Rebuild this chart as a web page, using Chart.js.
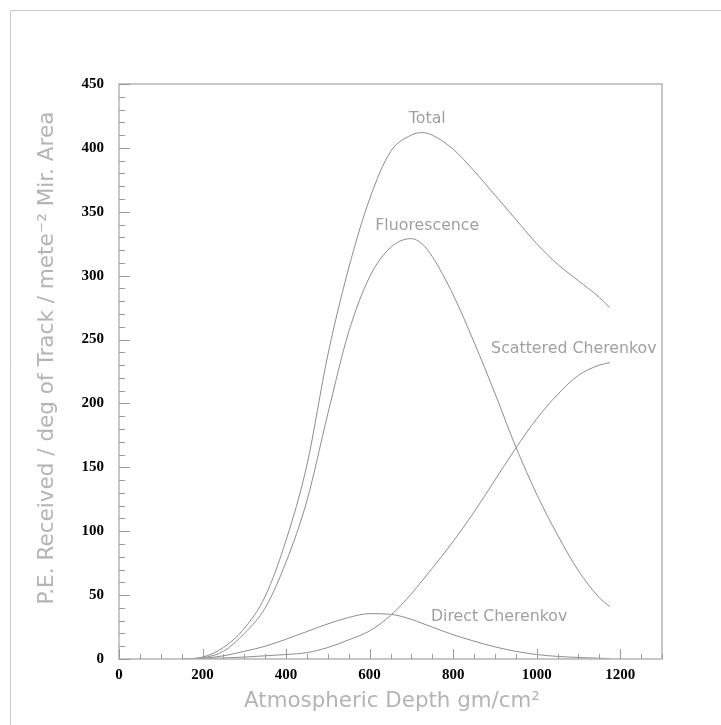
<!DOCTYPE html>
<html><head><meta charset="utf-8">
<script src="https://cdn.jsdelivr.net/npm/chart.js@4/dist/chart.umd.min.js"></script>
<style>html,body{margin:0;padding:0;background:#fff;overflow:hidden}#wrap{position:relative;width:721px;height:725px}canvas{display:block}</style>
</head><body><div id="wrap"><canvas id="c" width="721" height="725" style="width:721px;height:725px"></canvas></div>
<script>
// Atmospheric depth (gm/cm^2) sample positions
const depths = [150,200,250,300,350,400,450,500,550,600,650,700,725,750,800,850,900,950,1000,1050,1100,1150,1175];
// P.E. received per series
const total = [0,1.5,9,24,49,93,152,238,306,360,397,410,412,410,399,382,363,344,325,309,296,283,275];
const fluorescence = [0,1,6,20,40,76,124,192,256,299,322,329,325,315,285,248,208,166,129,97,69,48,41];
const scatteredCherenkov = [0,0.3,0.8,1.5,2.5,3.5,5,9,15,22,34,51,61,71,92,115,140,165,188,207,222,230,232];
const directCherenkov = [0,0.5,2.5,6,10,15.5,21.5,27.5,32.5,35.5,35,31,28,25,19,14,9.5,6,3.5,2,1.2,0.6,0.4];
const seriesNames = ['Total','Fluorescence','Scattered Cherenkov','Direct Cherenkov'];
const xTickValues = [0,200,400,600,800,1000,1200];
const yTickValues = [0,50,100,150,200,250,300,350,400,450];
const xTitle = 'Atmospheric Depth gm/cm\u00B2';
const yTitle = 'P.E. Received / deg of Track / mete\u207B\u00B2 Mir. Area';

const seriesValues = [total, fluorescence, scatteredCherenkov, directCherenkov];
// label anchor in data coordinates for each curve
const labelAnchors = [[738,423],[738,339],[1089,243],[910,33]];

const LINE = '#8e8e8e';
const sansFamily = '"DejaVu Sans", sans-serif';

function fitSize(ctx, text, weight, family, target){
  ctx.font = weight+' 20px '+family;
  const w = ctx.measureText(text).width;
  return 20*target/w;
}

const decor = {
  id:'decor',
  beforeDraw(chart){
    const ctx = chart.ctx;
    ctx.save();
    ctx.fillStyle='#fff';
    ctx.fillRect(0,0,chart.width,chart.height);
    ctx.strokeStyle='#c8c8c8'; ctx.lineWidth=1;
    ctx.beginPath();
    ctx.moveTo(10.5,chart.height); ctx.lineTo(10.5,10.5); ctx.lineTo(chart.width,10.5);
    ctx.stroke();
    ctx.restore();
  },
  afterDraw(chart){
    const ctx = chart.ctx, a = chart.chartArea;
    const xs = chart.scales.x, ys = chart.scales.y;
    ctx.save();
    ctx.strokeStyle='#b5b5b5'; ctx.lineWidth=1.5;
    ctx.strokeRect(a.left, a.top, a.right-a.left, a.bottom-a.top);
    ctx.strokeStyle='#9a9a9a'; ctx.lineWidth=1;
    ctx.beginPath();
    for(let v=0; v<=1300; v+=50){
      const px = Math.round(xs.getPixelForValue(v))+0.5;
      const len = (v%200===0)?10:5;
      ctx.moveTo(px,a.bottom); ctx.lineTo(px,a.bottom-len);
    }
    for(let v=0; v<=450; v+=10){
      const py = Math.round(ys.getPixelForValue(v))+0.5;
      const len = (v%50===0)?11:6;
      ctx.moveTo(a.left,py); ctx.lineTo(a.left+len,py);
    }
    ctx.stroke();
    ctx.fillStyle='#a0a0a0';
    ctx.textAlign='center'; ctx.textBaseline='middle';
    const ls = fitSize(ctx,'Fluorescence','normal',sansFamily,104);
    ctx.font = ls.toFixed(2)+'px '+sansFamily;
    seriesNames.forEach((name,i)=>{
      ctx.fillText(name, xs.getPixelForValue(labelAnchors[i][0]), ys.getPixelForValue(labelAnchors[i][1]));
    });
    ctx.fillStyle='#b4b4b4';
    let s = fitSize(ctx,xTitle,'normal',sansFamily,296);
    ctx.font = s.toFixed(2)+'px '+sansFamily;
    ctx.fillText(xTitle, 392, 701);
    s = fitSize(ctx,yTitle,'normal',sansFamily,493);
    ctx.font = s.toFixed(2)+'px '+sansFamily;
    ctx.translate(47,358); ctx.rotate(-Math.PI/2);
    ctx.fillText(yTitle,0,0);
    ctx.restore();
  }
};

const datasets = seriesValues.map((vals,i)=>({
  label: seriesNames[i],
  data: depths.map((d,j)=>({x:d,y:vals[j]})),
  borderColor: LINE, borderWidth: 1, pointRadius: 0, fill:false,
  cubicInterpolationMode:'monotone'
}));

new Chart(document.getElementById('c'),{
  type:'line',
  data:{datasets},
  options:{
    responsive:false, maintainAspectRatio:false, animation:false, devicePixelRatio:1,
    layout:{padding:{left:0,top:84,right:59,bottom:0}},
    plugins:{legend:{display:false},tooltip:{enabled:false}},
    scales:{
      x:{type:'linear',min:0,max:1300,
        grid:{display:false,drawTicks:false}, border:{display:false},
        afterBuildTicks(sc){ sc.ticks = xTickValues.map(v=>({value:v})); },
        afterFit(sc){ sc.height = 66; },
        ticks:{padding:7,color:'#000',maxRotation:0,autoSkip:false,callback:v=>String(v),
          font:{family:'"Liberation Serif", serif',weight:'bold',size:15}}
      },
      y:{type:'linear',min:0,max:450,
        grid:{display:false,drawTicks:false}, border:{display:false},
        afterBuildTicks(sc){ sc.ticks = yTickValues.map(v=>({value:v})); },
        afterFit(sc){ sc.width = 119; },
        ticks:{padding:15,color:'#000',autoSkip:false,callback:v=>String(v),
          font:{family:'"Liberation Serif", serif',weight:'bold',size:15}}
      }
    }
  },
  plugins:[decor]
});
</script>
</body></html>
